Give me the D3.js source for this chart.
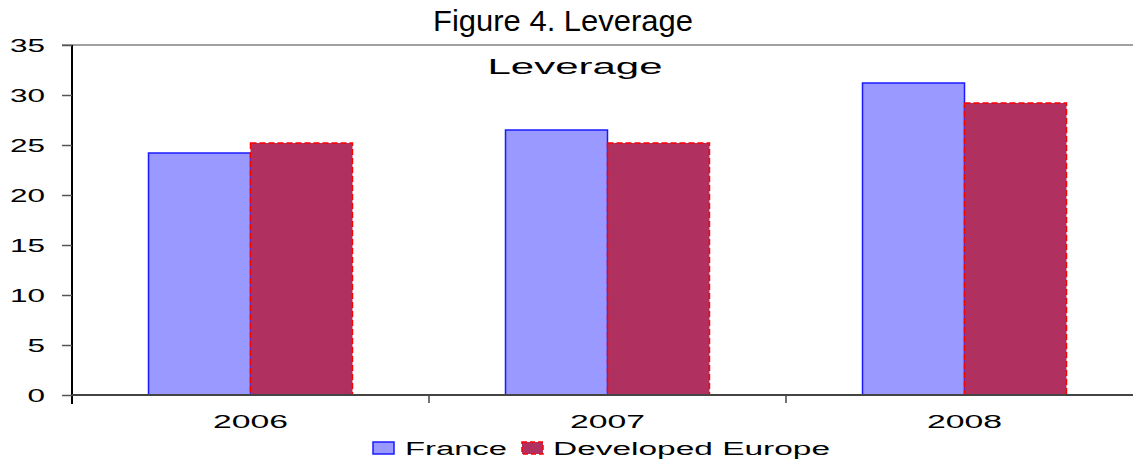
<!DOCTYPE html>
<html>
<head>
<meta charset="utf-8">
<script src="https://cdn.jsdelivr.net/npm/d3@7"></script>
<style>
  body { margin: 0; background: #fff; }
  svg { display: block; font-family: "Liberation Sans", Arial, sans-serif; }
</style>
</head>
<body>
<div id="chart"></div>
<script>
const years = ["2006", "2007", "2008"];
const france = [24.2, 26.5, 31.2];
const developedEurope = [25.2, 25.2, 29.2];
const seriesNames = ["France", "Developed Europe"];
const yTicks = [0, 5, 10, 15, 20, 25, 30, 35];

const W = 1133, H = 460;
const plotLeft = 72, plotTop = 45, plotBottom = 395;

const svg = d3.select("#chart").append("svg")
    .attr("width", W)
    .attr("height", H);

// scales
const x = d3.scaleBand()
    .domain(years)
    .range([plotLeft, plotLeft + 3 * 357])
    .paddingInner(0.4286)
    .paddingOuter(0.2143);

const x1 = d3.scaleBand()
    .domain(seriesNames)
    .range([0, x.bandwidth()]);

const y = d3.scaleLinear()
    .domain([0, 35])
    .range([plotBottom, plotTop]);

// titles
svg.append("text")
    .attr("x", 563).attr("y", 31)
    .attr("text-anchor", "middle")
    .attr("textLength", 260)
    .attr("lengthAdjust", "spacingAndGlyphs")
    .style("font-size", "30px")
    .text("Figure 4. Leverage");

// top border line
svg.append("line")
    .attr("x1", 62).attr("x2", W)
    .attr("y1", y(35)).attr("y2", y(35))
    .attr("stroke", "#808080").attr("stroke-width", 1.5);

svg.append("text")
    .attr("x", 575).attr("y", 74)
    .attr("text-anchor", "middle")
    .attr("textLength", 175)
    .attr("lengthAdjust", "spacingAndGlyphs")
    .style("font-size", "22px")
    .text("Leverage");

// bars
const colors = { "France": "#9999ff", "Developed Europe": "#b03060" };
const strokes = { "France": "#1a1aff", "Developed Europe": "#ff0000" };
const rows = years.map((yr, i) => ({ year: yr, values: [
    { name: "France", value: france[i] },
    { name: "Developed Europe", value: developedEurope[i] }
]}));

const groups = svg.selectAll("g.year").data(rows)
  .enter().append("g")
    .attr("class", "year")
    .attr("transform", d => "translate(" + x(d.year) + ",0)");

groups.selectAll("rect").data(d => d.values)
  .enter().append("rect")
    .attr("x", d => x1(d.name))
    .attr("width", x1.bandwidth())
    .attr("y", d => y(d.value))
    .attr("height", d => y(0) - y(d.value))
    .attr("fill", d => colors[d.name])
    .attr("stroke", d => strokes[d.name])
    .attr("stroke-width", 1.5)
    .attr("stroke-dasharray", d => d.name === "France" ? null : "6,3");

// y axis
const yAxis = svg.append("g")
    .attr("transform", "translate(" + plotLeft + ",0)")
    .call(d3.axisLeft(y).tickValues(yTicks).tickSize(10).tickPadding(17).tickSizeOuter(0));
yAxis.select(".domain")
    .attr("d", "M0," + plotTop + "V" + (plotBottom + 9))
    .attr("stroke", "#000").attr("stroke-width", 2);
yAxis.selectAll(".tick line").attr("stroke", "#555").attr("stroke-width", 1.5);
yAxis.selectAll(".tick text")
    .attr("dy", "0.36em")
    .attr("fill", "#000")
    .style("font-size", "18px")
    .attr("textLength", d => String(d).length * 17.5)
    .attr("lengthAdjust", "spacingAndGlyphs");

// x axis
const xAxis = svg.append("g")
    .attr("transform", "translate(0," + plotBottom + ")")
    .call(d3.axisBottom(x).tickSize(0).tickPadding(20).tickSizeOuter(0));
xAxis.select(".domain")
    .attr("d", "M" + plotLeft + ",0H" + W)
    .attr("stroke", "#444").attr("stroke-width", 2);
xAxis.selectAll(".tick text")
    .attr("fill", "#000")
    .style("font-size", "18px")
    .attr("textLength", 75)
    .attr("lengthAdjust", "spacingAndGlyphs");

// category separators below the axis
const seps = years.slice(1).map(yr => x(yr) - x.step() * x.paddingInner() / 2);
svg.selectAll("line.sep").data(seps)
  .enter().append("line")
    .attr("class", "sep")
    .attr("x1", d => d).attr("x2", d => d)
    .attr("y1", plotBottom).attr("y2", plotBottom + 8)
    .attr("stroke", "#444").attr("stroke-width", 1.5);

// legend
const legendItems = [
    { name: "France", box: 373, tx: 405, w: 102 },
    { name: "Developed Europe", box: 522, tx: 553, w: 277 }
];
const legend = svg.selectAll("g.legend").data(legendItems)
  .enter().append("g").attr("class", "legend");
legend.append("rect")
    .attr("x", d => d.box).attr("y", 442)
    .attr("width", 21).attr("height", 12)
    .attr("fill", d => colors[d.name])
    .attr("stroke", d => strokes[d.name])
    .attr("stroke-width", 1.5)
    .attr("stroke-dasharray", d => d.name === "France" ? null : "5,3");
legend.append("text")
    .attr("x", d => d.tx).attr("y", 455)
    .attr("textLength", d => d.w)
    .attr("lengthAdjust", "spacingAndGlyphs")
    .style("font-size", "18px")
    .text(d => d.name);
</script>
</body>
</html>
